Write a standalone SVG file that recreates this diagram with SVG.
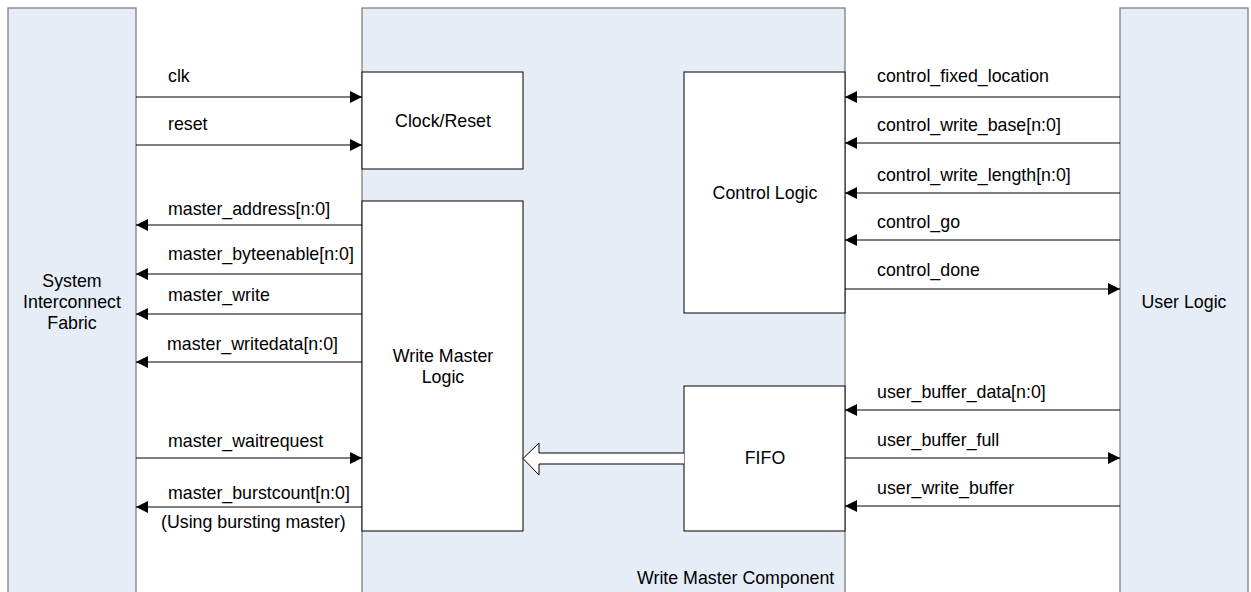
<svg xmlns="http://www.w3.org/2000/svg" width="1251" height="592" viewBox="0 0 1251 592">
<defs>
<marker id="ah" viewBox="0 0 10 10" refX="10" refY="5" markerWidth="12" markerHeight="12" markerUnits="userSpaceOnUse" orient="auto">
<path d="M0,0 L10,5 L0,10 z" fill="#000"/>
</marker>
<style>
.outer{fill:#E6EDF7;stroke:#808080;stroke-width:1.3}
.inner{fill:#fff;stroke:#000;stroke-width:1}
.t{font-family:"Liberation Sans",Arial,sans-serif;font-size:17.8px;fill:#000}
.c{text-anchor:middle}
.ln{stroke:#000;stroke-width:1;fill:none;marker-end:url(#ah)}
</style>
</defs>
<rect width="1251" height="592" fill="#fff"/>
<g id="sys">
<rect class="outer" x="8" y="8" width="128" height="600"/>
<text class="t c" x="72" y="287">System</text>
<text class="t c" x="72" y="308">Interconnect</text>
<text class="t c" x="72" y="329">Fabric</text>
</g>
<g id="wmc">
<rect class="outer" x="362" y="8" width="483" height="600"/>
<text class="t" x="637" y="584">Write Master Component</text>
</g>
<g id="user">
<rect class="outer" x="1120" y="8" width="128" height="600"/>
<text class="t c" x="1184" y="308">User Logic</text>
</g>
<g id="clockreset">
<rect class="inner" x="362" y="72" width="161" height="97"/>
<text class="t c" x="443" y="127">Clock/Reset</text>
</g>
<g id="wml">
<rect class="inner" x="362" y="201" width="161" height="330"/>
<text class="t c" x="443" y="362">Write Master</text>
<text class="t c" x="443" y="383">Logic</text>
</g>
<g id="control">
<rect class="inner" x="684" y="72" width="161" height="241"/>
<text class="t c" x="765" y="199">Control Logic</text>
</g>
<g id="fifo">
<rect class="inner" x="684" y="386" width="161" height="145"/>
<text class="t c" x="765" y="464">FIFO</text>
</g>
<g id="connectors">
<line class="ln" x1="136" y1="97" x2="362" y2="97"/>
<line class="ln" x1="136" y1="145" x2="362" y2="145"/>
<line class="ln" x1="362" y1="225" x2="136" y2="225"/>
<line class="ln" x1="362" y1="274" x2="136" y2="274"/>
<line class="ln" x1="362" y1="314" x2="136" y2="314"/>
<line class="ln" x1="362" y1="362" x2="136" y2="362"/>
<line class="ln" x1="136" y1="458" x2="362" y2="458"/>
<line class="ln" x1="362" y1="507" x2="136" y2="507"/>
<line class="ln" x1="1120" y1="97" x2="845" y2="97"/>
<line class="ln" x1="1120" y1="143" x2="845" y2="143"/>
<line class="ln" x1="1120" y1="193" x2="845" y2="193"/>
<line class="ln" x1="1120" y1="240" x2="845" y2="240"/>
<line class="ln" x1="845" y1="289" x2="1120" y2="289"/>
<line class="ln" x1="1120" y1="410" x2="845" y2="410"/>
<line class="ln" x1="845" y1="458" x2="1120" y2="458"/>
<line class="ln" x1="1120" y1="506" x2="845" y2="506"/>
<path d="M684,453 L539,453 L539,443 L523,458.5 L539,475 L539,464 L684,464" fill="#fff" stroke="#000" stroke-width="1"/>
</g>
<g id="labels">
<text class="t" x="168" y="82">clk</text>
<text class="t" x="168" y="130">reset</text>
<text class="t" x="168" y="215">master_address[n:0]</text>
<text class="t" x="168" y="260">master_byteenable[n:0]</text>
<text class="t" x="168" y="301">master_write</text>
<text class="t" x="167" y="350">master_writedata[n:0]</text>
<text class="t" x="168" y="447">master_waitrequest</text>
<text class="t" x="168" y="499">master_burstcount[n:0]</text>
<text class="t" x="161" y="528">(Using bursting master)</text>
<text class="t" x="877" y="82">control_fixed_location</text>
<text class="t" x="877" y="131">control_write_base[n:0]</text>
<text class="t" x="877" y="181">control_write_length[n:0]</text>
<text class="t" x="877" y="228">control_go</text>
<text class="t" x="877" y="276">control_done</text>
<text class="t" x="877" y="398">user_buffer_data[n:0]</text>
<text class="t" x="877" y="446">user_buffer_full</text>
<text class="t" x="877" y="494">user_write_buffer</text>
</g>
</svg>
